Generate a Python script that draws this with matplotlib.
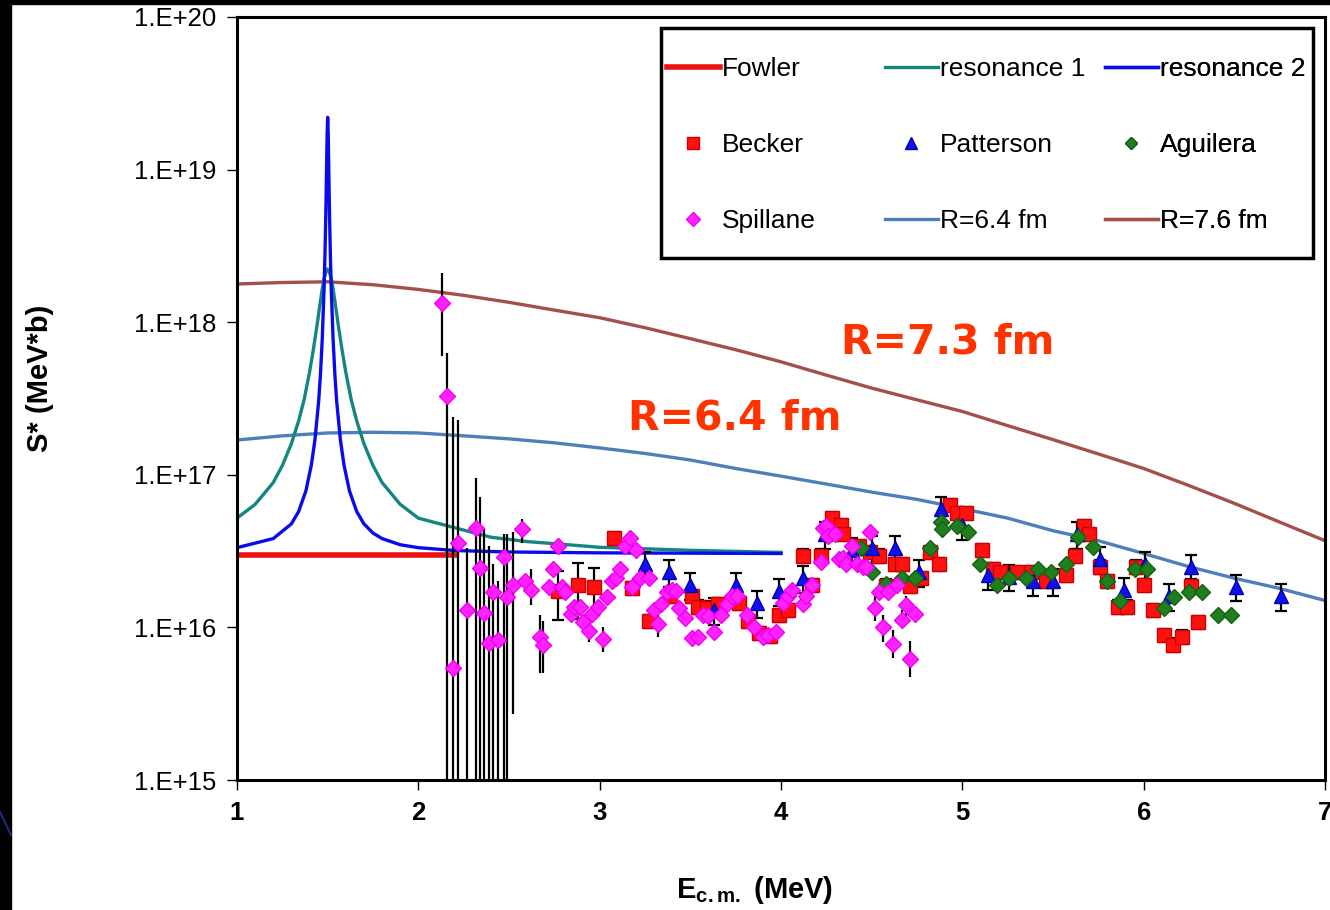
import numpy as np
import matplotlib
matplotlib.use("Agg")
import matplotlib.pyplot as plt
from matplotlib.lines import Line2D
from matplotlib.ticker import FixedLocator, FuncFormatter, NullLocator

plt.rcParams['font.family'] = ['Liberation Sans', 'DejaVu Sans']
plt.rcParams['mathtext.fontset'] = 'custom'
plt.rcParams['mathtext.rm'] = 'Liberation Sans'
plt.rcParams['mathtext.bf'] = 'Liberation Sans:bold'

# ---- curves ----
fowler_e = [1.0, 1.5, 2.0, 2.2]
fowler_s = [3.0e16, 3.0e16, 3.0e16, 3.0e16]

res1_e = [1.0, 1.1, 1.2, 1.25, 1.3, 1.34, 1.37, 1.40, 1.42, 1.44, 1.46, 1.47, 1.48,
          1.49, 1.5, 1.51, 1.52, 1.53, 1.54, 1.56, 1.58, 1.60, 1.63, 1.66, 1.70, 1.75,
          1.8, 1.9, 2.0, 2.2, 2.4, 2.6, 2.8, 3.0, 3.5, 4.0]
res1_s = [5.2e16, 6.4e16, 8.9e16, 1.15e17, 1.6e17, 2.26e17, 3.1e17, 4.7e17, 6.5e17,
          9.3e17, 1.37e18, 1.65e18, 1.93e18, 2.12e18, 2.23e18, 2.12e18, 1.93e18, 1.65e18,
          1.37e18, 9.3e17, 6.5e17, 4.7e17, 3.1e17, 2.26e17, 1.6e17, 1.15e17, 8.9e16,
          6.4e16, 5.2e16, 4.5e16, 3.9e16, 3.65e16, 3.5e16, 3.35e16, 3.2e16, 3.1e16]

res2_e = [1.0, 1.2, 1.3, 1.34, 1.38, 1.41, 1.43, 1.45, 1.46, 1.47, 1.48, 1.485, 1.49,
          1.494, 1.497, 1.5, 1.503, 1.506, 1.51, 1.515, 1.52, 1.53, 1.54, 1.55, 1.57,
          1.59, 1.62, 1.66, 1.7, 1.75, 1.8, 1.9, 2.0, 2.2, 2.5, 3.0, 4.0]
res2_s = [3.33e16, 3.82e16, 4.77e16, 5.75e16, 7.85e16, 1.16e17, 1.7e17, 3.0e17, 4.5e17,
          7.7e17, 1.63e18, 2.72e18, 5.28e18, 1.02e19, 1.71e19, 2.2e19, 1.71e19, 1.02e19,
          5.28e18, 2.72e18, 1.63e18, 7.7e17, 4.5e17, 3.0e17, 1.7e17, 1.16e17, 7.85e16,
          5.75e16, 4.77e16, 4.15e16, 3.82e16, 3.48e16, 3.33e16, 3.19e16, 3.12e16, 3.08e16,
          3.05e16]

r64_e = [1.0, 1.25, 1.5, 1.75, 2.0, 2.25, 2.5, 2.75, 3.0, 3.25, 3.5, 3.75, 4.0, 4.25,
         4.5, 4.75, 5.0, 5.25, 5.5, 5.75, 6.0, 6.25, 6.5, 6.75, 7.0]
r64_s = [1.69e17, 1.8e17, 1.88e17, 1.9e17, 1.88e17, 1.8e17, 1.72e17, 1.62e17, 1.5e17,
         1.38e17, 1.25e17, 1.1e17, 9.8e16, 8.7e16, 7.7e16, 6.9e16, 6.0e16, 5.2e16, 4.3e16,
         3.7e16, 3.05e16, 2.5e16, 2.1e16, 1.8e16, 1.5e16]

r76_e = [1.0, 1.25, 1.5, 1.75, 2.0, 2.25, 2.5, 2.75, 3.0, 3.25, 3.5, 3.75, 4.0, 4.25,
         4.5, 4.75, 5.0, 5.25, 5.5, 5.75, 6.0, 6.25, 6.5, 6.75, 7.0]
r76_s = [1.78e18, 1.82e18, 1.84e18, 1.76e18, 1.64e18, 1.5e18, 1.35e18, 1.2e18, 1.07e18,
         9.2e17, 7.8e17, 6.6e17, 5.5e17, 4.5e17, 3.7e17, 3.1e17, 2.6e17, 2.1e17, 1.7e17,
         1.37e17, 1.1e17, 8.5e16, 6.5e16, 4.9e16, 3.7e16]

# ---- data points ----
becker_e = [2.77, 2.88, 2.97, 3.08, 3.18, 3.27, 3.39, 3.51, 3.54, 3.59, 3.65, 3.77, 3.82,
            3.88, 3.94, 3.99, 4.04, 4.12, 4.17, 4.22, 4.28, 4.33, 4.34, 4.43, 4.49, 4.54,
            4.58, 4.63, 4.67, 4.71, 4.77, 4.82, 4.87, 4.93, 4.97, 5.02, 5.11, 5.17, 5.21,
            5.30, 5.38, 5.46, 5.57, 5.62, 5.67, 5.70, 5.76, 5.80, 5.86, 5.91, 5.96, 6.00,
            6.05, 6.11, 6.16, 6.21, 6.26, 6.30]
becker_s = [1.73e16, 1.9e16, 1.84e16, 3.85e16, 1.8e16, 1.1e16, 1.6e16, 1.6e16, 1.37e16,
            1.35e16, 1.42e16, 1.45e16, 1.1e16, 9.2e15, 8.8e15, 1.2e16, 1.3e16, 2.95e16,
            1.9e16, 2.95e16, 5.2e16, 4.7e16, 4.1e16, 3.4e16, 3.1e16, 2.95e16, 1.88e16,
            2.6e16, 2.6e16, 1.88e16, 2.1e16, 3.1e16, 2.6e16, 6.3e16, 5.6e16, 5.6e16, 3.2e16,
            2.4e16, 2.3e16, 2.3e16, 2.3e16, 2.0e16, 2.2e16, 2.95e16, 4.6e16, 4.1e16, 2.5e16,
            2.0e16, 1.37e16, 1.37e16, 2.5e16, 1.9e16, 1.3e16, 8.9e15, 7.7e15, 8.7e15,
            1.88e16, 1.08e16]
# relative error (fraction) for each Becker point
becker_err = [0.35, 0.4, 0.33] + [0.1] * 55

patt_e = [3.25, 3.38, 3.50, 3.63, 3.75, 3.87, 3.99, 4.12, 4.24, 4.39, 4.50, 4.63, 4.76,
          4.88, 5.00, 5.14, 5.26, 5.39, 5.50, 5.63, 5.76, 5.89, 6.01, 6.14, 6.26, 6.51, 6.76]
patt_s = [2.6e16, 2.3e16, 1.9e16, 1.3e16, 1.9e16, 1.45e16, 1.73e16, 2.1e16, 4.1e16,
          3.2e16, 3.3e16, 3.3e16, 2.3e16, 6.0e16, 4.7e16, 2.2e16, 2.15e16, 2.0e16, 2.0e16,
          4.1e16, 2.8e16, 1.75e16, 2.6e16, 1.6e16, 2.5e16, 1.85e16, 1.6e16]
patt_err = [0.2] * 27

agui_e = [4.44, 4.50, 4.58, 4.67, 4.74, 4.82, 4.88, 4.89, 4.97, 5.03, 5.10, 5.19, 5.26,
          5.35, 5.42, 5.49, 5.57, 5.64, 5.72, 5.80, 5.87, 5.95, 6.02, 6.11, 6.17, 6.25,
          6.32, 6.41, 6.48]
agui_s = [3.3e16, 2.3e16, 1.93e16, 2.1e16, 2.1e16, 3.3e16, 4.9e16, 4.4e16, 4.6e16, 4.2e16,
          2.6e16, 1.9e16, 2.1e16, 2.1e16, 2.4e16, 2.3e16, 2.6e16, 3.9e16, 3.35e16, 2.0e16,
          1.5e16, 2.4e16, 2.4e16, 1.35e16, 1.58e16, 1.7e16, 1.7e16, 1.2e16, 1.2e16]

spill_e = [2.13, 2.16, 2.19, 2.22, 2.27, 2.32, 2.34, 2.36, 2.39, 2.41, 2.44, 2.47, 2.49,
           2.52, 2.57, 2.59, 2.62, 2.67, 2.69, 2.72, 2.74, 2.77, 2.79, 2.81, 2.84, 2.86,
           2.89, 2.91, 2.94, 2.96, 2.99, 3.02, 3.04, 3.07, 3.09, 3.11, 3.14, 3.17, 3.18,
           3.20, 3.22, 3.27, 3.30, 3.32, 3.34, 3.37, 3.40, 3.42, 3.44, 3.47, 3.51, 3.54,
           3.57, 3.60, 3.63, 3.67, 3.70, 3.73, 3.76, 3.81, 3.85, 3.90, 3.93, 3.97, 4.01,
           4.04, 4.06, 4.12, 4.14, 4.17, 4.22, 4.23, 4.25, 4.26, 4.30, 4.32, 4.34, 4.36,
           4.39, 4.42, 4.45, 4.47, 4.49, 4.52, 4.54, 4.56, 4.59, 4.62, 4.64, 4.67, 4.69,
           4.71, 4.74]
spill_s = [1.34e18, 3.3e17, 5.4e15, 3.6e16, 1.3e16, 4.5e16, 2.45e16, 1.24e16, 7.9e15,
           1.7e16, 8.3e15, 2.9e16, 1.58e16, 1.9e16, 4.4e16, 2.0e16, 1.75e16, 8.7e15, 7.7e15,
           1.85e16, 2.4e16, 3.4e16, 1.84e16, 1.7e16, 1.23e16, 1.37e16, 1.37e16, 1.08e16,
           9.5e15, 1.23e16, 1.37e16, 8.4e15, 1.58e16, 2.0e16, 2.1e16, 2.4e16, 3.4e16,
           3.85e16, 1.84e16, 3.2e16, 2.1e16, 2.1e16, 1.3e16, 1.05e16, 1.42e16, 1.7e16,
           1.75e16, 1.72e16, 1.35e16, 1.16e16, 8.5e15, 8.7e15, 1.2e16, 1.18e16, 9.3e15,
           1.2e16, 1.42e16, 1.6e16, 1.6e16, 1.2e16, 1.0e16, 8.7e15, 8.9e15, 9.3e15, 1.45e16,
           1.6e16, 1.75e16, 1.42e16, 1.6e16, 1.9e16, 2.7e16, 4.5e16, 4.6e16, 4.0e16, 4.1e16,
           2.8e16, 2.85e16, 2.6e16, 3.4e16, 2.6e16, 2.5e16, 2.5e16, 4.2e16, 1.34e16, 1.7e16,
           1.0e16, 1.7e16, 7.8e15, 1.9e16, 1.12e16, 1.4e16, 6.2e15, 1.23e16]

# Spillane error bars that are visible: energy, lower end, upper end
spill_bar_e = [2.13, 2.16, 2.19, 2.22, 2.27, 2.32, 2.34, 2.36, 2.39, 2.41, 2.44, 2.47,
               2.49, 2.52, 2.57, 2.62, 2.67, 2.69, 2.94, 3.02, 3.32, 4.52, 4.56, 4.62,
               4.67, 4.69, 4.71]
spill_bar_lo = [6.0e17, 1e14, 1e14, 1e14, 1e14, 1e14, 1e14, 1e14, 1e14, 1e14, 1e14, 1e14,
                1e14, 2.7e15, 3.6e16, 1.4e16, 5.0e15, 5.0e15, 8.0e15, 6.9e15, 8.7e15,
                1.1e16, 8.0e15, 6.3e15, 1.0e16, 1.15e16, 4.7e15]
spill_bar_hi = [2.1e18, 6.3e17, 2.4e17, 2.3e17, 3.3e16, 9.5e16, 7.2e16, 4.5e16, 3.4e16,
                2.6e16, 2.0e16, 4.1e16, 4.1e16, 4.2e16, 5.1e16, 2.4e16, 1.2e16, 1.1e16,
                1.1e16, 1.0e16, 1.2e16, 1.6e16, 1.2e16, 9.6e15, 1.3e16, 1.6e16, 8.2e15]

yticks = [1e15, 1e16, 1e17, 1e18, 1e19, 1e20]
xticks = [1, 2, 3, 4, 5, 6, 7]

fig = plt.figure(figsize=(13.3, 9.1), dpi=100)
fig.patch.set_facecolor('white')
ax = fig.add_axes([237 / 1330, 130 / 910, 1088 / 1330, 763 / 910])

# slide border remnants
fig.patches.append(plt.Rectangle((0, 0), 11 / 1330, 1, transform=fig.transFigure,
                                 color='black', zorder=-1))
fig.patches.append(plt.Rectangle((0, 1 - 4 / 910), 1, 4 / 910, transform=fig.transFigure,
                                 color='black', zorder=-1))
fig.lines.append(Line2D([0, 11 / 1330], [1 - 812 / 910, 1 - 835 / 910],
                        transform=fig.transFigure, color='#1a2a8a', lw=1.5))

l76, = ax.plot(r76_e, r76_s, color='#a34f4c', lw=2.4, label='R=7.6 fm', zorder=2)
l64, = ax.plot(r64_e, r64_s, color='#4f7fb8', lw=2.4, label='R=6.4 fm', zorder=2)
lfo, = ax.plot(fowler_e, fowler_s, color='#ee1111', lw=4, label='Fowler', zorder=2)
lr1, = ax.plot(res1_e, res1_s, color='#13877f', lw=2.4, label='resonance 1', zorder=2)
lr2, = ax.plot(res2_e, res2_s, color='#0a0aee', lw=2.4, label='resonance 2', zorder=2)

ax.vlines(spill_bar_e, spill_bar_lo, spill_bar_hi, colors='black', lw=1.6, zorder=3)

b_s = np.array(becker_s)
b_err = np.array(becker_err) * b_s
ax.errorbar(becker_e, becker_s, yerr=b_err, fmt='none', ecolor='black', elinewidth=1.6,
            capsize=4, capthick=1.6, zorder=3)
p_s = np.array(patt_s)
p_err = np.array(patt_err) * p_s
ax.errorbar(patt_e, patt_s, yerr=p_err, fmt='none', ecolor='black', elinewidth=1.6,
            capsize=4, capthick=1.6, zorder=3)

lbe, = ax.plot(becker_e, becker_s, 's', color='#ff1111', mec='#cc0000', ms=10, ls='none',
               label='Becker', zorder=4)
lpa, = ax.plot(patt_e, patt_s, '^', color='#1010ee', mec='#0000aa', ms=10, ls='none',
               label='Patterson', zorder=4)
lag, = ax.plot(agui_e, agui_s, 'D', color='#1f7f1f', mec='#156015', ms=8, ls='none',
               label='Aguilera', zorder=5)
lsp, = ax.plot(spill_e, spill_s, 'D', color='#ff22ff', mec='#ee00ee', ms=8.5, ls='none',
               label='Spillane', zorder=5)

ax.set_yscale('log')
ax.set_xlim(1, 7)
ax.set_ylim(1e15, 1e20)
ax.yaxis.set_major_locator(FixedLocator(yticks))
ax.yaxis.set_minor_locator(NullLocator())
ax.yaxis.set_major_formatter(FuncFormatter(lambda v, p: '1.E+%d' % round(np.log10(v))))
ax.set_xticks(xticks)
ax.set_xticklabels([str(t) for t in xticks], fontweight='bold')
ax.tick_params(axis='y', labelsize=18.5, length=7, width=1, direction='out', pad=8)
ax.tick_params(axis='x', labelsize=18.5, length=7, width=1, direction='out', pad=8)
for sp in ax.spines.values():
    sp.set_color('black')
    sp.set_linewidth(2.2)

ax.set_ylabel('S* (MeV*b)', fontsize=21, fontweight='bold', va='center')
ax.yaxis.set_label_coords(-0.181, 0.527)
ax.set_xlabel(r'$\mathbf{E}_{\mathbf{c.m.}}$ (MeV)', fontsize=21, fontweight='bold',
              va='center')
ax.xaxis.set_label_coords(0.476, -0.144)

ax.text(0.6535, 0.574, 'R=7.3 fm', transform=ax.transAxes, fontsize=29.5,
        family='DejaVu Sans', fontweight='bold', color='#ff3300', ha='center',
        va='center')
ax.text(0.4577, 0.4744, 'R=6.4 fm', transform=ax.transAxes, fontsize=29.5,
        family='DejaVu Sans', fontweight='bold', color='#ff3300', ha='center',
        va='center')

# legend: frame plus three columns
frame = plt.Rectangle(((661 - 237) / 1088, (780 - 258) / 763), 652 / 1088, 230 / 763,
                      transform=ax.transAxes, facecolor='white', edgecolor='black',
                      lw=2.5, zorder=9)
ax.add_patch(frame)
columns = [(lfo, lbe, lsp), (lr1, lpa, l64), (lr2, lag, l76)]
col_x = [667, 885, 1105]
for handles, cx in zip(columns, col_x):
    lg = ax.legend(handles, [hh.get_label() for hh in handles], loc='upper left',
                   bbox_to_anchor=((cx - 237) / 1088, (780 - 57) / 763),
                   frameon=False, fontsize=19, handlelength=2.0, handletextpad=0.08,
                   labelspacing=1.98, borderpad=0, borderaxespad=0, markerscale=0.8)
    lg.set_zorder(10)
    ax.add_artist(lg)

fig.savefig('out.png', dpi=100, facecolor='white')
